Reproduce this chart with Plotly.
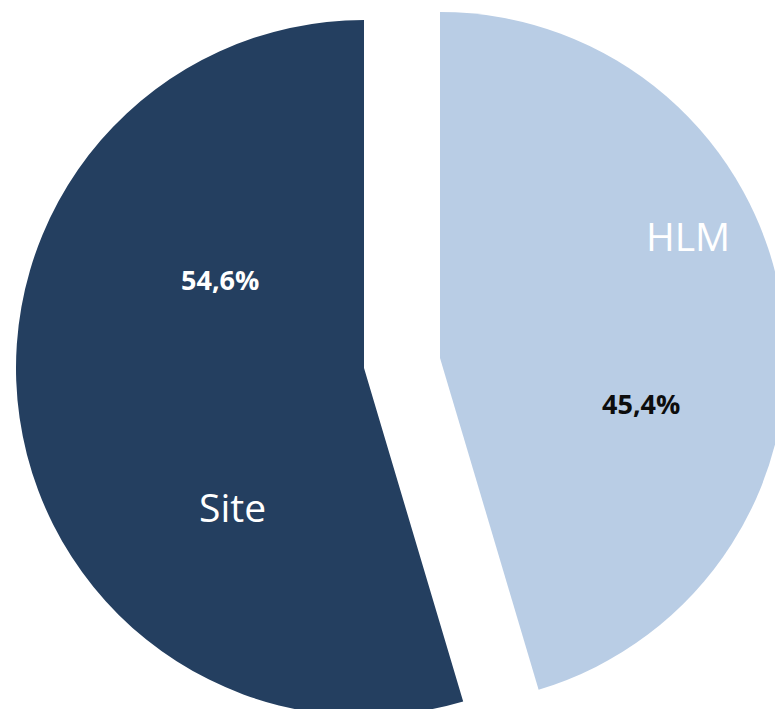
import plotly.graph_objects as go

# share of each category
labels = ['HLM', 'Site']
values = [45.4, 54.6]
colors = ['#B9CDE5', '#243F60']
pct_colors = ['#0D0D0D', '#FFFFFF']

# the page body has an 8px margin, so work in screen pixels and shift
OFF = 8
W, H = 800, 720
CLEAR = 'rgba(0,0,0,0)'


def box(cx, cy, r):
    # square pixel box around a screen centre -> paper domain
    x0, x1 = cx - r - OFF, cx + r - OFF
    y0, y1 = cy - r - OFF, cy + r - OFF
    return dict(x=[x0 / W, x1 / W], y=[1 - y1 / H, 1 - y0 / H])


def paper(x, y):
    return (x - OFF) / W, 1 - (y - OFF) / H


# exploded pie: each slice is its own pie trace (the other slice left
# transparent) so the two can be shifted apart like in the original
boxes = [
    box(440, 358, 346),   # HLM, pulled right
    box(364, 368, 348),   # Site, pulled left
]

fig = go.Figure()
for i, lab in enumerate(labels):
    slice_colors = [colors[j] if j == i else CLEAR for j in range(len(labels))]
    fig.add_trace(go.Pie(
        labels=labels,
        values=values,
        sort=False,
        direction='clockwise',
        rotation=0,
        marker=dict(colors=slice_colors, line=dict(width=0)),
        textinfo='none',
        hoverinfo='skip',
        showlegend=False,
        domain=boxes[i],
    ))

total = sum(values)
pct_text = [('%.1f%%' % (v / total * 100)).replace('.', ',') for v in values]

name_pos = [(688, 235), (232, 506)]
pct_pos = [(641, 403), (220, 279)]

annotations = []
for i, lab in enumerate(labels):
    x, y = paper(*name_pos[i])
    annotations.append(dict(
        x=x, y=y, xref='paper', yref='paper', text=lab, showarrow=False,
        xanchor='center', yanchor='middle',
        font=dict(family='Open Sans', size=39, color='#FFFFFF'),
    ))
    x, y = paper(*pct_pos[i])
    annotations.append(dict(
        x=x, y=y, xref='paper', yref='paper', text='<b>%s</b>' % pct_text[i],
        showarrow=False, xanchor='center', yanchor='middle',
        font=dict(family='Open Sans', size=27, color=pct_colors[i]),
    ))

fig.update_layout(
    width=W,
    height=H,
    margin=dict(l=0, r=0, t=0, b=0),
    paper_bgcolor='white',
    plot_bgcolor='white',
    annotations=annotations,
)

fig.write_html("out.html")
